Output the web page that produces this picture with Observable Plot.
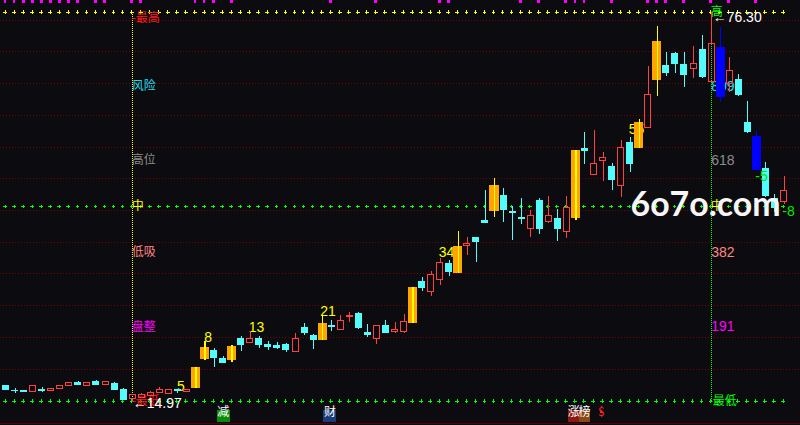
<!DOCTYPE html>
<html><head><meta charset="utf-8">
<script src="https://cdn.jsdelivr.net/npm/d3@7"></script>
<script src="https://cdn.jsdelivr.net/npm/@observablehq/plot@0.6"></script>
<style>
html,body{margin:0;padding:0;background:#0c0c10;}
#chart svg{display:block;}
</style></head><body><div id="chart"></div>
<script>
// ---- data ----
const opens  = [17.41,16.70,16.55,16.36,16.86,16.47,16.83,17.26,17.93,17.41,18.00,17.57,17.78,16.78,15.36,15.52,15.68,16.31,16.11,16.78,16.36,16.99,21.51,22.93,21.67,21.36,24.82,24.04,24.82,23.88,23.72,23.88,22.77,26.56,25.30,24.51,26.87,26.09,28.14,28.77,25.77,24.67,26.87,25.77,25.77,27.19,33.81,32.08,33.97,36.65,35.07,39.33,40.75,43.43,44.85,47.37,44.85,43.90,42.01,46.58,43.27,43.74,41.54,43.74,54.78,50.68,52.73,51.94,48.79,55.73,54.78,58.09,65.50,67.87,69.76,68.02,67.39,70.39,65.34,70.70,64.87,65.66,58.88,56.67,51.63,46.90,46.27];
const highs  = [17.49,16.94,16.63,17.30,17.10,16.94,17.41,17.89,18.09,17.89,18.25,17.93,17.93,16.94,15.99,16.15,16.39,17.10,16.83,16.83,16.83,20.33,24.35,23.25,21.99,23.72,25.14,25.93,25.14,24.35,24.19,24.04,25.61,27.19,25.45,28.45,27.66,28.45,28.92,28.92,27.03,26.87,27.66,27.35,28.61,32.86,34.44,35.39,37.44,37.12,41.69,40.75,40.75,48.16,50.05,48.47,45.64,46.90,45.00,46.90,47.21,45.16,47.21,54.46,57.30,57.62,54.15,52.41,56.04,56.51,59.35,67.71,74.01,69.92,69.92,69.92,70.86,72.60,76.30,73.86,69.13,66.45,62.19,57.46,52.57,47.53,50.37];
const lows   = [16.78,16.15,16.31,16.33,16.36,16.42,16.78,17.21,17.52,17.37,17.52,17.41,16.74,15.21,14.97,15.36,15.63,16.26,16.07,16.15,16.31,16.94,21.43,20.25,20.84,21.04,22.77,23.99,23.25,22.93,23.09,22.62,22.62,25.30,23.09,24.51,25.93,26.09,27.35,26.24,24.98,23.88,25.72,25.61,25.61,27.19,32.23,31.45,33.18,34.60,35.07,37.91,36.81,43.11,43.90,43.11,40.27,42.80,40.75,41.22,42.95,40.12,40.59,43.43,52.26,50.68,49.58,48.16,47.05,51.00,54.78,57.93,62.98,66.13,66.60,64.40,65.82,65.82,65.34,62.03,63.61,62.98,57.14,51.47,47.05,44.69,45.95];
const closes = [16.83,16.55,16.39,17.26,16.70,16.89,17.37,17.84,17.57,17.84,17.57,17.89,16.78,15.25,15.84,15.99,16.31,16.63,16.78,16.58,16.78,20.25,23.40,21.83,21.04,23.56,23.88,24.82,23.88,23.61,23.45,23.09,24.82,25.77,24.67,27.19,26.72,27.66,28.30,26.56,25.50,26.72,25.77,26.09,27.35,32.86,32.86,34.76,36.65,35.39,39.33,39.80,40.12,43.11,48.95,45.16,44.69,43.74,44.06,42.17,44.06,42.17,45.32,54.46,54.46,52.41,53.36,49.89,54.78,52.41,58.88,63.14,71.65,66.76,68.18,66.45,68.18,66.13,71.18,62.98,66.92,63.29,57.46,51.47,47.37,45.48,48.00];
// r = rising (hollow red), c = falling (cyan), o = signal rise (orange), b = signal fall (blue)
const kinds = ["c","c","c","r","c","r","r","r","c","r","c","r","c","c","r","r","r","r","r","c","r","o","o","c","c","o","c","r","c","c","c","c","r","c","c","o","c","r","r","c","c","r","c","r","r","o","c","r","r","c","o","r","c","c","o","c","c","c","r","c","r","c","r","o","c","r","r","c","r","c","o","r","o","c","c","c","r","c","r","b","r","c","c","b","c","c","r"];

const gridLevels = [20,25,30,35,40,45,50,55,60,65,70,75];
const panelBottom = 11.47;

const fibRatios  = [1, 0.809, 0.618, 0.5, 0.382, 0.191, 0];
const leftNames  = ["-最高","风险","高位","中","低吸","盘整","-最低"];
const rightNames = ["高","809","618","中","382","191","-最低"];

const countText = ["5","8","13","21","34","55"];
const countX    = [19.34, 22.33, 27.69, 35.59, 48.69, 69.7];
const countY    = [17.18, 24.98, 26.56, 29.00, 38.38, 57.78];

const downText = ["-5","-8"];
const downX    = [83.52, 86.5];
const downY    = [50.37, 44.85];

const magentaIdx = [0,1,2,3,4,5,6,7,8,10,11,14,15,21,22,23,25,36,41,48,49,57,59,62,63,64,67,71,72,73,75,78,80,83];

const eventText = ["减","财","涨","榜","$"];
const eventX    = [24, 35.8, 62.75, 63.95, 65.8];

const watermark = "6o7o.com";

// ---- styles ----
const bg = "#0c0c10";
const kindColor = {r: "#ff4040", c: "#54fcfc", o: "#ffa500", b: "#0000ff"};
const kindHalf  = {r: 0.387, c: 0.387, o: 0.5, b: 0.5};
const leftColors  = ["#ff1818","#22dcee","#8c8c8c","#ffff00","#ff8484","#ff00ff","#ff1818"];
const rightColors = ["#00ff00","#22dcee","#8c8c8c","#ffff00","#ff8484","#ff00ff","#00ff00"];
const eventBg   = ["#0a8a0a","#1a3c78","#8c1a14","#8a4a18", null];
const eventSize = [7.3, 7.3, 6.3, 6.3, 0];
const eventFill = ["#ffffff","#ffffff","#ffffff","#ffffff","#ff2020"];
const cjk = "Noto Sans CJK SC, sans-serif";
const num = "Liberation Sans Narrow, Liberation Sans, sans-serif";

// ---- derived tables ----
const candles = opens.map((o, i) => ({
  i, open: o, high: highs[i], low: lows[i], close: closes[i], kind: kinds[i],
  top: Math.max(o, closes[i]), bot: Math.min(o, closes[i])
}));
const hi = d3.max(highs), lo = d3.min(lows);
const hiIdx = highs.indexOf(hi), loIdx = lows.indexOf(lo);
const idx = d3.range(candles.length);
const levels = fibRatios.map((f, k) => ({f, k, price: lo + f * (hi - lo), left: leftNames[k], right: rightNames[k]}));
const counts = countText.map((t, k) => ({t, x: countX[k], y: countY[k]}));
const downs = downText.map((t, k) => ({t, x: downX[k], y: downY[k]}));
const events = eventText.map((t, k) => ({t, k, x: eventX[k]}));
const isCJK = s => /[\u4e00-\u9fff]/.test(s);

const wicked = candles.filter(d => d.kind !== "o");
const hollow = candles.filter(d => d.kind === "r");
const solid  = candles.filter(d => d.kind !== "r");
const orange = candles.filter(d => d.kind === "o");
const flat   = candles.filter(d => d.kind === "c" || d.kind === "b");
const x1 = d => d.i - kindHalf[d.kind], x2 = d => d.i + kindHalf[d.kind];
const col = d => kindColor[d.kind];

function levelText(rows, side, opts) {
  return Plot.text(rows, {
    x: side === "left" ? loIdx : hiIdx, y: "price", text: side,
    fill: d => (side === "left" ? leftColors : rightColors)[d.k],
    textAnchor: "start", ...opts
  });
}
function tagSquares(size) {
  return Plot.dot(events.filter(d => eventSize[d.k] === size), {
    x: "x", frameAnchor: "bottom", dy: -9.5, symbol: "square", r: size, fill: d => eventBg[d.k]
  });
}

const chart = Plot.plot({
  width: 800, height: 425,
  margin: 0,
  x: {domain: [0, candles.length - 1], range: [5.52, 783.5], axis: null},
  y: {domain: [lo, hi], range: [400.5, 11.5], axis: null},
  color: {type: "identity"},
  style: {background: bg, shapeRendering: "crispEdges", overflow: "visible"},
  marks: [
    Plot.ruleY(gridLevels, {stroke: "#7a0000", strokeDasharray: "1 2"}),
    Plot.ruleY([panelBottom], {stroke: "#5a0000"}),
    Plot.ruleX([loIdx], {y1: lo, y2: hi, stroke: "#ffff00", strokeDasharray: "1 1"}),
    Plot.ruleX([hiIdx], {y1: lo, y2: hi, stroke: "#00ff00", strokeDasharray: "1 1"}),
    Plot.dot(idx, {x: d => d, y: hi, symbol: "plus", r: 1.3, stroke: "#ffff00", strokeWidth: 1, dx: -1}),
    Plot.dot(idx, {x: d => d, y: lo + 0.5 * (hi - lo), symbol: "plus", r: 1.3, stroke: "#00ff00", strokeWidth: 1, dx: -1}),
    Plot.dot(idx, {x: d => d, y: lo, symbol: "plus", r: 1.3, stroke: "#00ff00", strokeWidth: 1, dx: -1}),
    // fib level labels (behind candles)
    levelText(levels.filter(d => d.f === 1), "left", {dx: -1, dy: 6, fontFamily: cjk, fontSize: 12}),
    levelText(levels.filter(d => d.f !== 1), "left", {dx: -1, fontFamily: cjk, fontSize: 12}),
    levelText(levels.filter(d => isCJK(d.right) && d.f !== 0), "right", {dx: -1, fontFamily: cjk, fontSize: 12}),
    levelText(levels.filter(d => d.f === 0), "right", {dx: -3, fontFamily: cjk, fontSize: 12}),
    levelText(levels.filter(d => !isCJK(d.right)), "right", {dx: -0.5, fontFamily: num, fontSize: 14}),
    // count labels
    Plot.text(counts, {x: "x", y: "y", text: "t", fill: "#ffff00", fontFamily: num, fontSize: 14}),
    // candles
    Plot.ruleX(wicked, {x: "i", y1: "high", y2: "top", stroke: col}),
    Plot.ruleX(wicked, {x: "i", y1: "bot", y2: "low", stroke: col}),
    Plot.rect(solid, {x1, x2, y1: "open", y2: "close", fill: col}),
    Plot.ruleY(flat, {y: "open", x1, x2, stroke: col}),
    Plot.ruleY(flat, {y: "close", x1, x2, stroke: col}),
    Plot.rect(hollow, {x1, x2, y1: "open", y2: "close", fill: "none", stroke: col, insetLeft: 0.5, insetRight: 0.5}),
    Plot.ruleX(orange, {x: "i", y1: "low", y2: "high", stroke: "#ffff00", strokeWidth: 1.4}),
    // after candles
    Plot.text(downs, {x: "x", y: "y", text: "t", fill: "#00e800", fontFamily: num, fontSize: 14}),
    Plot.text([lo], {x: loIdx, y: d => d, text: d => "←" + d3.format(".2f")(d), fill: "#ffffff", textAnchor: "start", dy: 3, fontFamily: num, fontSize: 14}),
    Plot.text([hi], {x: hiIdx, y: d => d, text: d => "←" + d3.format(".2f")(d), fill: "#ffffff", textAnchor: "start", dx: 1, dy: 5.5, fontFamily: num, fontSize: 14}),
    Plot.dot(magentaIdx, {x: d => d, frameAnchor: "top", dy: 1, dx: -1, symbol: "square", r: 1.6, fill: "#ff00ff"}),
    tagSquares(7.3),
    tagSquares(6.3),
    Plot.text(events, {x: "x", frameAnchor: "bottom", dy: -9.5, text: "t", fill: d => eventFill[d.k], fontFamily: cjk, fontSize: 12}),
    Plot.dot(events.filter(d => d.t === "$"), {x: "x", frameAnchor: "bottom", dy: -13.5, symbol: "triangle", r: 1.4, fill: "#ff2020"}),
    Plot.text([watermark], {frameAnchor: "top-left", dx: 705, dy: 191, text: d => d, fill: "#f6f6f6", textAnchor: "middle", fontFamily: "Lato, DejaVu Sans, sans-serif", fontWeight: "bold", fontSize: 35})
  ]
});

const svg = d3.select(chart);
svg.selectAll("text").filter(function() { return this.textContent === watermark; })
  .attr("textLength", 150).attr("lengthAdjust", "spacingAndGlyphs");
document.getElementById("chart").appendChild(chart);
</script>
</body></html>
